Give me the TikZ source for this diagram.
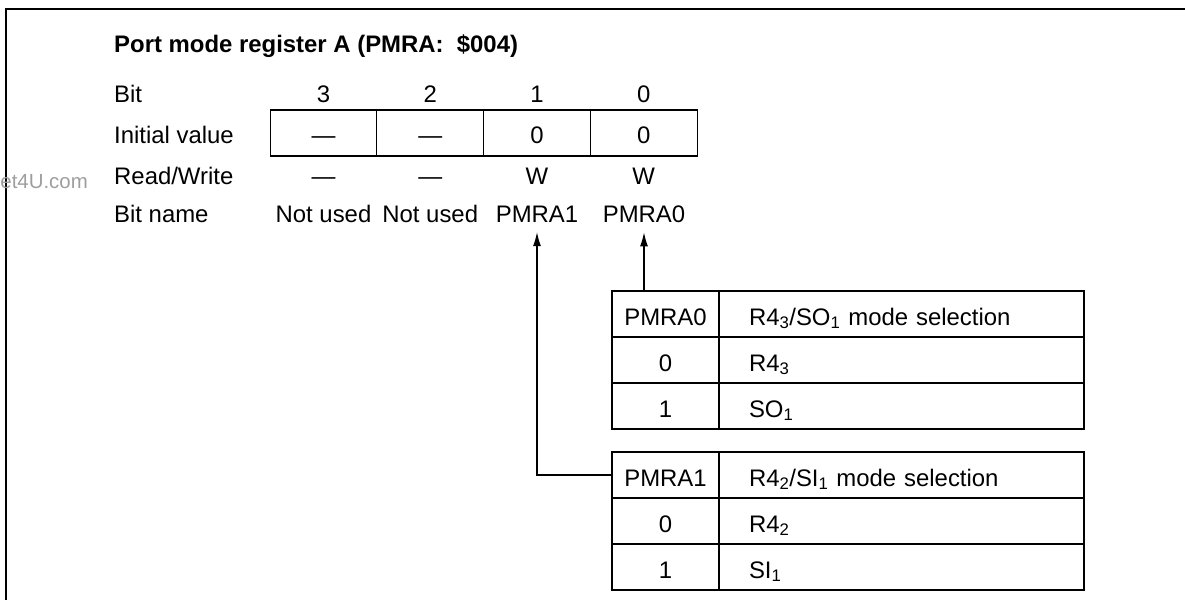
\documentclass[tikz,border=0pt]{standalone}
\usepackage{fontspec}
\setmainfont{Liberation Sans}
\newfontfamily\wmfont{Liberation Sans}
\usetikzlibrary{arrows.meta}
\begin{document}
\begin{tikzpicture}[x=1bp,y=-1bp,
  every node/.style={inner sep=0pt,font=\fontsize{24}{28}\selectfont},
  txt/.style={anchor=base},
  lbl/.style={anchor=base west},
  frame/.style={line width=1.5bp},
  regcell/.style={draw,line width=1.2bp,minimum width=106.75bp,minimum height=46bp,text height=22bp,text depth=0pt},
  numcell/.style={draw,line width=1.2bp,minimum width=107bp,minimum height=46bp,text height=22bp,text depth=0pt},
  desccell/.style={draw,line width=1.2bp,minimum width=365bp,minimum height=46bp,text height=22bp,text depth=0pt,text width=305bp,inner xsep=30bp,align=left},
  arr/.style={line width=1.1bp,-{Latex[length=14bp,width=8bp]}}]
\useasboundingbox (0,0) rectangle (1185,600);
% frame
\draw[frame] (1185,9) -- (6,9) -- (6,600);
% watermark
\node[anchor=base east,text=black!38,font=\wmfont\fontsize{20.5}{24}\selectfont] (wm) at (88,189) {et4U.com};
% title
\node[lbl,font=\bfseries\fontsize{24}{28}\selectfont] (title) at (114,53) {Port mode register A (PMRA:\ \ \$004)};
% row labels
\node[lbl] (lbit) at (114,103) {Bit};
\node[lbl] (linit) at (114,144) {Initial value};
\node[lbl] (lrw) at (114,185) {Read/Write};
\node[lbl] (lname) at (114,223) {Bit name};
% bit numbers
\node[txt] (b3) at (323.5,103) {3};
\node[txt] (b2) at (430.25,103) {2};
\node[txt] (b1) at (537,103) {1};
\node[txt] (b0) at (643.75,103) {0};
% register cells
\node[regcell] (r3) at (323.5,133) {—};
\node[regcell] (r2) at (430.25,133) {—};
\node[regcell] (r1) at (537,133) {0};
\node[regcell] (r0) at (643.75,133) {0};
% read/write
\node[txt] (w3) at (323.5,185) {—};
\node[txt] (w2) at (430.25,185) {—};
\node[txt] (w1) at (537,185) {W};
\node[txt] (w0) at (643.75,185) {W};
% bit names
\node[txt] (n3) at (323.5,223) {Not used};
\node[txt] (n2) at (430.25,223) {Not used};
\node[txt] (n1) at (537,223) {PMRA1};
\node[txt] (n0) at (644,223) {PMRA0};
% table PMRA0
\node[numcell] (t1h) at (665.5,314) {PMRA0};
\node[desccell] (t1hd) at (901.5,314) {R4\textsubscript{3}/SO\textsubscript{1} mode selection};
\node[numcell] (t1a) at (665.5,360) {0};
\node[desccell] (t1ad) at (901.5,360) {R4\textsubscript{3}};
\node[numcell] (t1b) at (665.5,406) {1};
\node[desccell] (t1bd) at (901.5,406) {SO\textsubscript{1}};
% table PMRA1
\node[numcell] (t2h) at (665.5,475) {PMRA1};
\node[desccell] (t2hd) at (901.5,475) {R4\textsubscript{2}/SI\textsubscript{1} mode selection};
\node[numcell] (t2a) at (665.5,521) {0};
\node[desccell] (t2ad) at (901.5,521) {R4\textsubscript{2}};
\node[numcell] (t2b) at (665.5,567) {1};
\node[desccell] (t2bd) at (901.5,567) {SI\textsubscript{1}};
% connectors
\draw[arr,shorten >=9bp] (n0.south |- t1h.north) -- (n0.south);
\draw[arr,shorten >=9bp] (t2h.west) -| (n1.south);
\end{tikzpicture}
\end{document}
